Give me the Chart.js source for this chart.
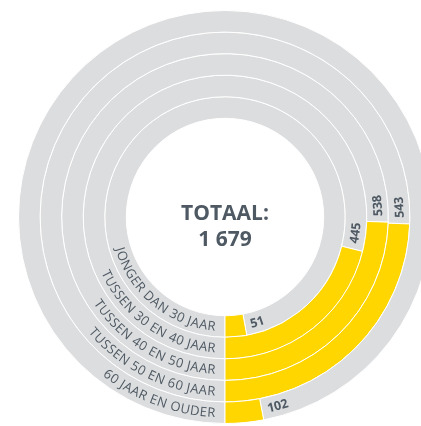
<!DOCTYPE html>
<html>
<head>
<meta charset="utf-8">
<script src="https://cdn.jsdelivr.net/npm/chart.js@4"></script>
<style>
  html, body { margin: 0; padding: 0; background: #fff; overflow: hidden; }
  #wrap { position: absolute; left: 18px; top: 10px; width: 414px; height: 414px; }
</style>
</head>
<body>
<div id="wrap"><canvas id="js--chart"></canvas></div>
<script>
// inner ring first
const categories = [
    "JONGER DAN 30 JAAR",
    "TUSSEN 30 EN 40 JAAR",
    "TUSSEN 40 EN 50 JAAR",
    "TUSSEN 50 EN 60 JAAR",
    "60 JAAR EN OUDER"
];
const values = [51, 445, 538, 543, 102];
// part of each ring that is yellow, in % of the full circle
const ringShare = [2.9, 21.1, 24.5, 24.4, 3.0];

const yellow = "#FFD600";
const grey = "#DCDDDF";
const textColor = "#4E5963";

let total = values.reduce((a, b) => a + b, 0);
let totalText = String(total).replace(/\B(?=(\d{3})+(?!\d))/g, " ");

// chart.js puts dataset 0 on the outside, so reverse
const datasets = categories.map((c, i) => ({
    label: c,
    data: [100 - ringShare[i], ringShare[i]],
    backgroundColor: [grey, yellow],
    borderColor: "#ffffff",
    borderWidth: 1
})).reverse();

function arcText(ctx, text, cx, cy, r, angle, spacing) {
    // writes text along the circle, going counter clockwise from angle
    for (let ch of text) {
        let w = ctx.measureText(ch).width;
        let a = angle - (w / 2) / r;
        ctx.save();
        ctx.translate(cx + r * Math.cos(a), cy + r * Math.sin(a));
        ctx.rotate(a - Math.PI / 2);
        ctx.fillText(ch, 0, 0);
        ctx.restore();
        angle -= (w + spacing) / r;
    }
}

function arcWidth(ctx, text, spacing) {
    let w = 0;
    for (let ch of text) w += ctx.measureText(ch).width + spacing;
    return w - spacing;
}

const ringLabels = {
    id: "ringLabels",
    afterDatasetsDraw(chart) {
        const ctx = chart.ctx;
        ctx.save();
        ctx.fillStyle = textColor;
        ctx.textAlign = "center";
        ctx.textBaseline = "alphabetic";
        chart.data.datasets.forEach((ds, di) => {
            let idx = categories.length - 1 - di;
            let arc = chart.getDatasetMeta(di).data[1];
            let mid = (arc.innerRadius + arc.outerRadius) / 2;

            // category name, ending just left of the bottom
            ctx.font = "13px 'Open Sans'";
            let sp = 0.5;
            let r = mid + 4.6;
            let w = arcWidth(ctx, ds.label, sp);
            let start = Math.PI / 2 + (10 + w) / r;
            arcText(ctx, ds.label, arc.x, arc.y, r, start, sp);

            // value, just after the yellow part
            ctx.font = "bold 12.5px 'Open Sans'";
            r = mid + 4.5;
            arcText(ctx, String(values[idx]), arc.x, arc.y, r, arc.startAngle - 6 / r, 0);
        });

        // total in the middle
        let m = chart.getDatasetMeta(0).data[0];
        ctx.textAlign = "center";
        ctx.font = "bold 21px 'Open Sans'";
        ctx.fillText("TOTAAL:", m.x, 210);
        ctx.fillText(totalText, m.x, 236);
        ctx.restore();
    }
};

new Chart(document.getElementById("js--chart"), {
    type: "doughnut",
    data: { labels: ["rest", "aantal"], datasets: datasets },
    options: {
        responsive: true,
        maintainAspectRatio: false,
        animation: false,
        rotation: 180,
        cutout: "47.8%",
        layout: { padding: 0 },
        plugins: { legend: { display: false }, tooltip: { enabled: false } }
    },
    plugins: [ringLabels]
});
</script>
</body>
</html>
